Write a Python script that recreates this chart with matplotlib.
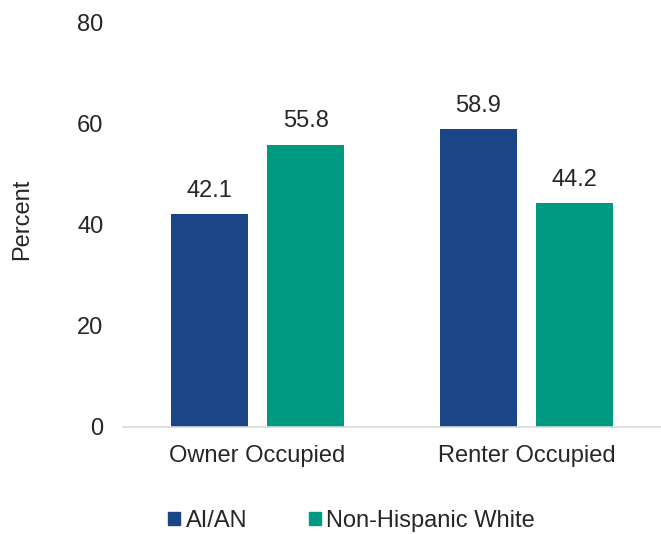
import matplotlib
matplotlib.use("Agg")
import matplotlib.pyplot as plt
import numpy as np
from matplotlib.patches import Patch

categories = ["Owner Occupied", "Renter Occupied"]
series_names = ["AI/AN", "Non-Hispanic White"]
aian = [42.1, 58.9]
nhw = [55.8, 44.2]
yticks = [0, 20, 40, 60, 80]
colors = ["#1B4586", "#009982"]

plt.rcParams['font.family'] = ['Liberation Sans', 'DejaVu Sans']
FS = 17

fig = plt.figure(figsize=(6.61, 5.34), dpi=100)
ax = fig.add_axes([0.186, 0.2004, 0.814, 0.7584])

x = np.arange(len(categories))
w = 0.286
off = 0.179
for vals, o, c in [(aian, -off, colors[0]), (nhw, off, colors[1])]:
    bars = ax.bar(x + o, vals, width=w, color=c, zorder=2)
    for b, v in zip(bars, vals):
        ax.text(b.get_x() + b.get_width() / 2, v + 3.4, f"{v:.1f}", ha="center",
                va="baseline", fontsize=FS, color="#262626")

ax.set_xlim(-0.5, 1.5)
ax.set_ylim(0, 80)
ax.set_yticks(yticks)
ax.set_xticks(x)
ax.set_xticklabels(categories)
ax.tick_params(axis="both", length=0, labelsize=FS, colors="#262626")
ax.tick_params(axis="y", pad=14)
ax.tick_params(axis="x", pad=13)
for s in ["top", "right", "left"]:
    ax.spines[s].set_visible(False)
ax.spines["bottom"].set_color("#d9d9d9")
ax.spines["bottom"].set_linewidth(1.2)
ax.set_ylabel("Percent", fontsize=FS, color="#262626")
ax.yaxis.set_label_coords(-0.167, 0.512)

handles = [Patch(color=c) for c in colors]
fig.legend(handles, series_names, loc="center", bbox_to_anchor=(0.532, 0.0243),
           ncol=2, frameon=False, fontsize=FS, handlelength=0.5, handleheight=0.5,
           handletextpad=0.25, columnspacing=2.6, labelcolor="#262626",
           borderpad=0, borderaxespad=0)

fig.savefig("out.png", dpi=100)
